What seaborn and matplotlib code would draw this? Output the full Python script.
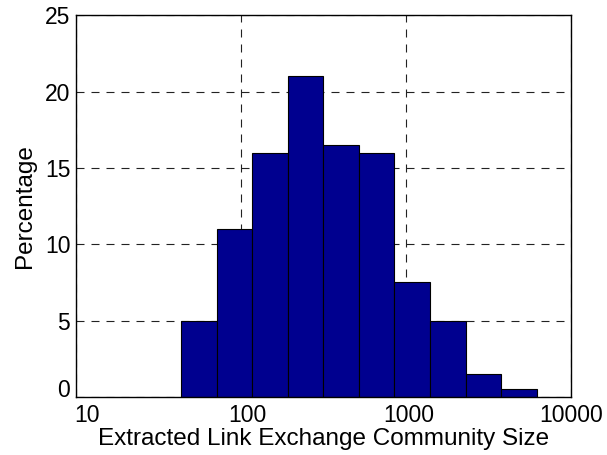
import numpy as np
import pandas as pd
import matplotlib
matplotlib.use("Agg")
import matplotlib.pyplot as plt
import matplotlib.transforms as mtransforms
import seaborn as sns

# Data
size_min = 43.6          # left edge of the first bin (community size)
size_max = 6225.0        # right edge of the last bin
percentage = [5, 11, 16, 21, 16.5, 16, 7.5, 5, 1.5, 0.5]
x_ticks = [10, 100, 1000, 10000]
x_tick_labels = ["10", "100", "1000", "10000"]
y_ticks = [0, 5, 10, 15, 20, 25]

n_bins = len(percentage)
log_lo, log_hi = np.log10(size_min), np.log10(size_max)
log_edges = np.linspace(log_lo, log_hi, n_bins + 1)
centers = 10 ** ((log_edges[:-1] + log_edges[1:]) / 2)
df = pd.DataFrame({"size": centers, "pct": percentage})

sns.set_style("white")
plt.rcParams["font.family"] = ["Liberation Sans", "DejaVu Sans"]
plt.rcParams["text.color"] = "black"
plt.rcParams["axes.labelcolor"] = "black"
plt.rcParams["xtick.color"] = "black"
plt.rcParams["ytick.color"] = "black"

fig = plt.figure(figsize=(6.07, 4.55), dpi=100)
ax = fig.add_axes([0.1245, 0.128, 0.8157, 0.838])

sns.histplot(data=df, x="size", weights="pct", bins=n_bins,
             binrange=(log_lo, log_hi),
             log_scale=True, stat="count", color="#00008F", alpha=1.0,
             edgecolor="black", linewidth=0.8, ax=ax)

ax.set_xlim(10, 10000)
ax.set_ylim(0, 25)
ax.set_xticks(x_ticks)
ax.set_xticklabels(x_tick_labels)
ax.minorticks_off()
ax.set_yticks(y_ticks)
ax.tick_params(length=0, labelsize=16.5, labelcolor="black")
ax.tick_params(axis="x", pad=5.0)
ax.tick_params(axis="y", pad=3.8)
ax.set_axisbelow(True)
ax.grid(True, linestyle=(0, (7.2, 6.3)), color="#222222", linewidth=0.8)
for s in ax.spines.values():
    s.set_color("black")
    s.set_linewidth(1.0)
    s.set_visible(True)
ax.set_xlabel("Extracted Link Exchange Community Size", fontsize=17.5,
              labelpad=1, color="black")
ax.set_ylabel("Percentage", fontsize=17.5, labelpad=6, color="black")

# MATLAB-like label nudges (pixels)
x_shift = [11, 6.5, 3.5, 0]
for lab, dx in zip(ax.get_xticklabels(), x_shift):
    lab.set_transform(lab.get_transform() +
                      mtransforms.ScaledTranslation(dx / 100, 0, fig.dpi_scale_trans))
ylabs = ax.get_yticklabels()
ylabs[0].set_transform(ylabs[0].get_transform() +
                       mtransforms.ScaledTranslation(0, 8.5 / 100, fig.dpi_scale_trans))

fig.savefig("out.png", dpi=100)
